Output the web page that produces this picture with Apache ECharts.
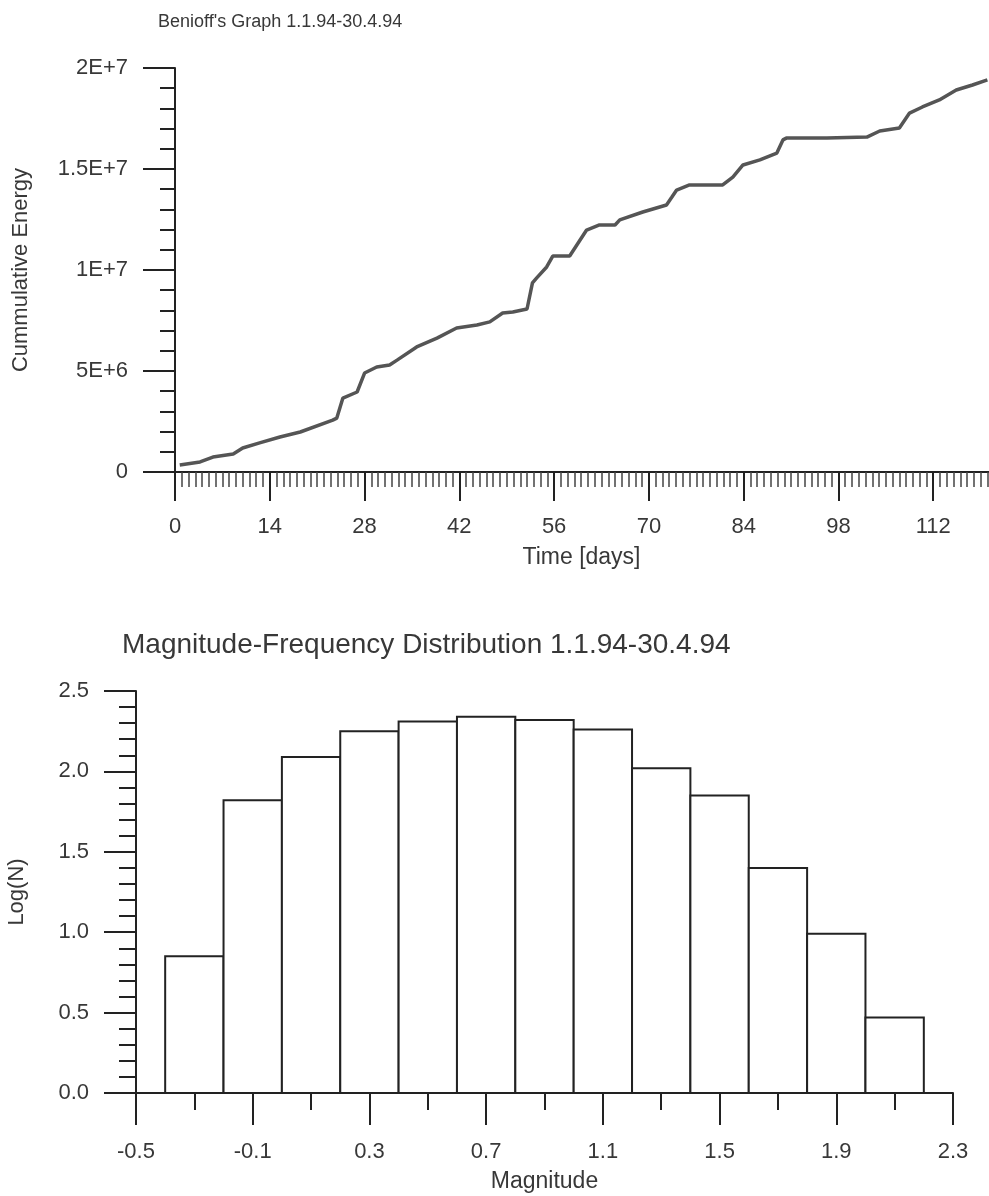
<!DOCTYPE html>
<html>
<head>
<meta charset="utf-8">
<script src="https://cdn.jsdelivr.net/npm/echarts@6/dist/echarts.min.js"></script>
<style>
html,body{margin:0;padding:0;background:#fff;}
#chart{width:989px;height:1196px;}
</style>
</head>
<body>
<div id="chart"></div>
<script>
// ---- Benioff's graph data (day, cumulative energy) ----
const days = [0.7, 3.7, 5.6, 8.6, 10.0, 12.5, 15.5, 18.5, 23.3, 23.9, 24.8, 26.9, 28.0, 29.8, 31.7, 32.8,
  35.7, 38.7, 41.6, 44.6, 46.5, 48.4, 49.9, 52.0, 52.8, 53.4, 54.9, 55.8, 58.3, 60.8, 62.7, 65.0, 65.7,
  69.1, 72.6, 73.4, 74.1, 76.0, 80.9, 82.4, 83.9, 86.4, 88.9, 89.8, 90.3, 96.3, 102.2, 104.1, 107.0,
  108.5, 110.4, 112.9, 115.4, 117.8, 120.0];
const energy = [0.35e6, 0.50e6, 0.74e6, 0.89e6, 1.19e6, 1.44e6, 1.73e6, 1.98e6, 2.57e6, 2.67e6, 3.66e6, 3.96e6,
  4.90e6, 5.20e6, 5.30e6, 5.54e6, 6.19e6, 6.63e6, 7.13e6, 7.28e6, 7.43e6, 7.87e6, 7.92e6, 8.07e6, 9.36e6,
  9.60e6, 10.15e6, 10.69e6, 10.69e6, 11.98e6, 12.23e6, 12.23e6, 12.48e6, 12.87e6, 13.22e6, 13.61e6, 13.96e6,
  14.21e6, 14.21e6, 14.60e6, 15.20e6, 15.45e6, 15.79e6, 16.44e6, 16.53e6, 16.53e6, 16.58e6, 16.88e6, 17.03e6,
  17.77e6, 18.07e6, 18.42e6, 18.91e6, 19.16e6, 19.41e6];
const energyTickLabels = ['0', '5E+6', '1E+7', '1.5E+7', '2E+7'];

// ---- Magnitude-frequency histogram ----
const binStart = [-0.4, -0.2, 0.0, 0.2, 0.4, 0.6, 0.8, 1.0, 1.2, 1.4, 1.6, 1.8, 2.0];
const binEnd   = [-0.2, 0.0, 0.2, 0.4, 0.6, 0.8, 1.0, 1.2, 1.4, 1.6, 1.8, 2.0, 2.2];
const logN     = [0.85, 1.82, 2.09, 2.25, 2.31, 2.34, 2.32, 2.26, 2.02, 1.85, 1.40, 0.99, 0.47];

const FONT = 'Liberation Sans, Arial, sans-serif';
const TXT = '#383838';
const AX = '#222';

const lineData = days.map((d, i) => [d, energy[i]]);
const histData = binStart.map((s, i) => [s, binEnd[i], logN[i]]);

const chart = echarts.init(document.getElementById('chart'), null, {renderer: 'canvas'});
chart.setOption({
  backgroundColor: '#fff',
  animation: false,
  textStyle: {fontFamily: FONT, color: TXT},
  title: [
    {text: "Benioff's Graph 1.1.94-30.4.94", left: 158, top: 13, padding: 0,
     textStyle: {fontFamily: FONT, fontSize: 18, fontWeight: 'normal', color: TXT}},
    {text: 'Magnitude-Frequency Distribution 1.1.94-30.4.94', left: 122, top: 631, padding: 0,
     textStyle: {fontFamily: FONT, fontSize: 28, fontWeight: 'normal', color: TXT}}
  ],
  grid: [
    {left: 175, top: 68, width: 853, height: 404, containLabel: false, outerBoundsMode: 'none'},
    {left: 136, top: 691, width: 817, height: 402, containLabel: false, outerBoundsMode: 'none'}
  ],
  xAxis: [
    {gridIndex: 0, type: 'value', min: 0, max: 126, interval: 14,
     name: 'Time [days]', nameLocation: 'middle', nameGap: 74,
     nameTextStyle: {fontFamily: FONT, fontSize: 23, color: TXT, padding: [0, 40, 0, 0]},
     axisLine: {show: true, onZero: false, lineStyle: {color: AX, width: 2}},
     axisTick: {show: true, inside: false, length: 29, lineStyle: {color: AX, width: 2}},
     minorTick: {show: true, splitNumber: 14, length: 15, lineStyle: {color: '#444', width: 1.5}},
     axisLabel: {margin: 44, fontFamily: FONT, fontSize: 22, color: TXT},
     splitLine: {show: false}},
    {gridIndex: 1, type: 'value', min: -0.5, max: 2.3, interval: 0.4,
     name: 'Magnitude', nameLocation: 'middle', nameGap: 77,
     nameTextStyle: {fontFamily: FONT, fontSize: 23, color: TXT},
     axisLine: {show: true, onZero: false, lineStyle: {color: AX, width: 2}},
     axisTick: {show: true, length: 32, lineStyle: {color: AX, width: 2}},
     minorTick: {show: true, splitNumber: 2, length: 17, lineStyle: {color: AX, width: 2}},
     axisLabel: {margin: 48, fontFamily: FONT, fontSize: 22, color: TXT,
       formatter: v => v.toFixed(1)},
     splitLine: {show: false}}
  ],
  yAxis: [
    {gridIndex: 0, type: 'value', min: 0, max: 2e7, interval: 5e6,
     name: 'Cummulative Energy', nameLocation: 'middle', nameGap: 143, nameRotate: 90,
     nameTextStyle: {fontFamily: FONT, fontSize: 22, color: TXT},
     axisLine: {show: true, onZero: false, lineStyle: {color: AX, width: 2}},
     axisTick: {show: true, length: 32, lineStyle: {color: AX, width: 2}},
     minorTick: {show: true, splitNumber: 5, length: 15, lineStyle: {color: AX, width: 2}},
     axisLabel: {margin: 47, fontFamily: FONT, fontSize: 22, color: TXT,
       formatter: (v, i) => energyTickLabels[i]},
     splitLine: {show: false}},
    {gridIndex: 1, type: 'value', min: 0, max: 2.5, interval: 0.5,
     name: 'Log(N)', nameLocation: 'middle', nameGap: 108, nameRotate: 90,
     nameTextStyle: {fontFamily: FONT, fontSize: 22, color: TXT},
     axisLine: {show: true, onZero: false, lineStyle: {color: AX, width: 2}},
     axisTick: {show: true, length: 32, lineStyle: {color: AX, width: 2}},
     minorTick: {show: true, splitNumber: 5, length: 17, lineStyle: {color: AX, width: 2}},
     axisLabel: {margin: 47, fontFamily: FONT, fontSize: 22, color: TXT,
       formatter: v => v.toFixed(1)},
     splitLine: {show: false}}
  ],
  series: [
    {type: 'line', xAxisIndex: 0, yAxisIndex: 0, data: lineData, showSymbol: false,
     lineStyle: {color: '#555', width: 3.5}, smooth: false},
    {type: 'custom', xAxisIndex: 1, yAxisIndex: 1, data: histData,
     renderItem: function (params, api) {
       const p0 = api.coord([api.value(0), api.value(2)]);
       const p1 = api.coord([api.value(1), 0]);
       return {type: 'rect', shape: {x: p0[0], y: p0[1], width: p1[0] - p0[0], height: p1[1] - p0[1]},
               style: {fill: '#fff', stroke: '#222', lineWidth: 2}};
     },
     encode: {x: [0, 1], y: 2}}
  ]
});
</script>
</body>
</html>
